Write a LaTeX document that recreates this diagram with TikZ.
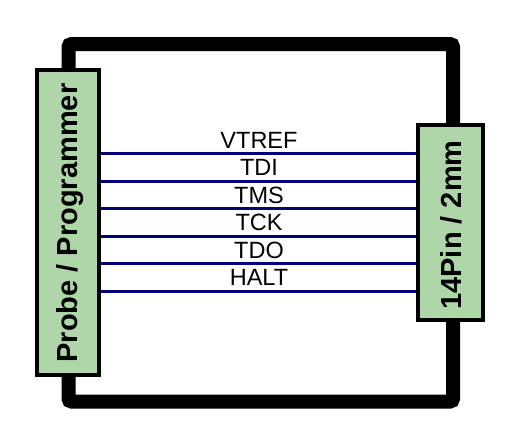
\documentclass[tikz,border=0pt]{standalone}
\usepackage{fontspec}
\setmainfont{Liberation Sans}
\definecolor{boxgreen}{RGB}{174,214,168}
\definecolor{wire}{RGB}{0,0,120}
\begin{document}
\begin{tikzpicture}[x=1pt,y=-1pt,
  frame/.style={line width=14pt,rounded corners=3pt,line join=miter},
  connbox/.style={draw=black,line width=4pt,fill=boxgreen,inner sep=0pt,minimum width=#1},
  wireline/.style={draw=wire,line width=3pt},
  siglabel/.style={font=\fontsize{23.5}{26}\selectfont,inner sep=0pt,anchor=center}]
\useasboundingbox (0,0) rectangle (510,440);
\draw[frame] (68.5,44) rectangle (453,401.5);
\node[connbox=62pt,minimum height=305pt] (probe) at (68,222.5) {};
\node[connbox=65pt,minimum height=195pt] (conn) at (450.5,222.5) {};
\node[rotate=90,font=\bfseries\fontsize{29}{32}\selectfont,inner sep=0pt] (plab) at (70,223) {Probe / Programmer};
\node[rotate=90,font=\bfseries\fontsize{29}{32}\selectfont,inner sep=0pt] (clab) at (451,225) {14Pin / 2mm};
\foreach \i/\y in {1/153,2/181,3/208,4/236,5/263,6/291}{
  \coordinate (l\i) at (probe.east |- 0,\y);
  \coordinate (r\i) at (conn.west |- 0,\y);
  \draw[wireline] (l\i) -- (r\i);
}
\node[siglabel] (s0) at (259,140) {VTREF};
\node[siglabel] (s1) at (259,167.5) {TDI};
\node[siglabel] (s2) at (259,195) {TMS};
\node[siglabel] (s3) at (259,222.5) {TCK};
\node[siglabel] (s4) at (259,250) {TDO};
\node[siglabel] (s5) at (259,277.5) {HALT};
\end{tikzpicture}
\end{document}
